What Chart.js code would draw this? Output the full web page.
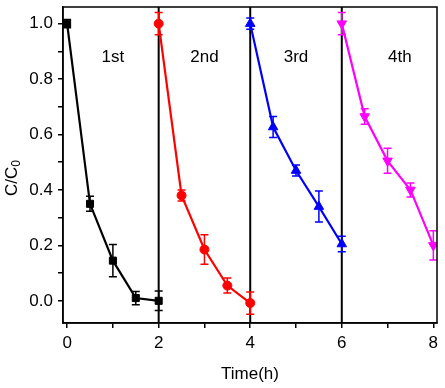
<!DOCTYPE html>
<html>
<head>
<meta charset="utf-8">
<script src="https://cdn.jsdelivr.net/npm/chart.js"></script>
<style>
  body { margin: 0; background: #fff; }
  #wrap { width: 445px; height: 388px; }
</style>
</head>
<body>
<div id="wrap"><canvas id="cycleChart" width="445" height="388"></canvas></div>
<script>
// cycle runs: time (h), C/C0 and error
const run1X = [0, 0.5, 1, 1.5, 2];
const run1Y = [1.0, 0.35, 0.145, 0.01, 0.0];
const run1Err = [0.015, 0.027, 0.058, 0.024, 0.035];

const run2X = [2, 2.5, 3, 3.5, 4];
const run2Y = [1.0, 0.38, 0.185, 0.055, -0.008];
const run2Err = [0.04, 0.02, 0.053, 0.027, 0.04];

const run3X = [4, 4.5, 5, 5.5, 6];
const run3Y = [1.0, 0.627, 0.47, 0.34, 0.205];
const run3Err = [0.02, 0.038, 0.02, 0.056, 0.028];

const run4X = [6, 6.5, 7, 7.5, 8];
const run4Y = [1.0, 0.665, 0.505, 0.40, 0.2];
const run4Err = [0.04, 0.028, 0.045, 0.025, 0.053];

const runLabels = ['1st', '2nd', '3rd', '4th'];
const runLabelX = [1.0, 3.0, 5.0, 7.27];
const runLabelY = 0.88;
const dividers = [2, 4, 6];

const FONT = '"Liberation Sans", Arial, sans-serif';

function pts(xs, ys) {
    return xs.map((x, i) => ({ x: x, y: ys[i] }));
}

function makeSet(xs, ys, errs, color, style, radius, rotation) {
    return {
        data: pts(xs, ys),
        errors: errs,
        borderColor: color,
        backgroundColor: color,
        borderWidth: 2.2,
        pointStyle: style,
        pointRadius: radius,
        pointRotation: rotation || 0,
        pointBorderWidth: 1,
        pointBackgroundColor: color,
        pointBorderColor: color,
        tension: 0
    };
}

// drop the extra label padding so the plot box sits where we want it
function noPad(s) {
    s.paddingTop = 0;
    s.paddingBottom = 0;
    s.paddingLeft = 0;
    s.paddingRight = 0;
}

const extrasPlugin = {
    id: 'extras',
    beforeDatasetsDraw(chart) {
        const ctx = chart.ctx;
        const xs = chart.scales.x;
        const area = chart.chartArea;
        ctx.save();
        ctx.strokeStyle = '#000';
        ctx.lineWidth = 2;
        dividers.forEach(d => {
            const px = xs.getPixelForValue(d);
            ctx.beginPath();
            ctx.moveTo(px, area.top);
            ctx.lineTo(px, area.bottom);
            ctx.stroke();
        });
        ctx.restore();
    },
    afterDatasetsDraw(chart) {
        const ctx = chart.ctx;
        const xs = chart.scales.x;
        const ys = chart.scales.y;
        ctx.save();
        chart.data.datasets.forEach(ds => {
            ctx.strokeStyle = ds.borderColor;
            ctx.lineWidth = 1.5;
            ds.data.forEach((p, i) => {
                const e = ds.errors[i];
                const px = xs.getPixelForValue(p.x);
                const top = ys.getPixelForValue(p.y + e);
                const bot = ys.getPixelForValue(p.y - e);
                ctx.beginPath();
                ctx.moveTo(px, top);
                ctx.lineTo(px, bot);
                ctx.moveTo(px - 4, top);
                ctx.lineTo(px + 4, top);
                ctx.moveTo(px - 4, bot);
                ctx.lineTo(px + 4, bot);
                ctx.stroke();
            });
        });
        ctx.restore();
    },
    afterDraw(chart) {
        const ctx = chart.ctx;
        const xs = chart.scales.x;
        const ys = chart.scales.y;
        const area = chart.chartArea;
        ctx.save();
        // frame
        ctx.strokeStyle = '#000';
        ctx.lineWidth = 1.5;
        ctx.strokeRect(area.left, area.top, area.right - area.left, area.bottom - area.top);

        // run labels
        ctx.fillStyle = '#000';
        ctx.font = '17px ' + FONT;
        ctx.textAlign = 'center';
        ctx.textBaseline = 'middle';
        runLabels.forEach((t, i) => {
            ctx.fillText(t, xs.getPixelForValue(runLabelX[i]), ys.getPixelForValue(runLabelY));
        });

        // x title
        ctx.fillText('Time(h)', 250, 374);

        // y title with subscript
        ctx.translate(12, 178);
        ctx.rotate(-Math.PI / 2);
        ctx.textAlign = 'left';
        ctx.font = '17px ' + FONT;
        const main = 'C/C';
        const w = ctx.measureText(main).width;
        ctx.font = '12px ' + FONT;
        const sw = ctx.measureText('0').width;
        const start = -(w + sw) / 2;
        ctx.font = '17px ' + FONT;
        ctx.fillText(main, start, 0);
        ctx.font = '12px ' + FONT;
        ctx.fillText('0', start + w, 5);
        ctx.restore();
    }
};

new Chart(document.getElementById('cycleChart'), {
    type: 'line',
    data: {
        datasets: [
            makeSet(run1X, run1Y, run1Err, '#000000', 'rect', 5),
            makeSet(run2X, run2Y, run2Err, '#ff0000', 'circle', 4.5),
            makeSet(run3X, run3Y, run3Err, '#0000ff', 'triangle', 5.5),
            makeSet(run4X, run4Y, run4Err, '#ff00ff', 'triangle', 5.5, 180)
        ]
    },
    options: {
        responsive: false,
        animation: false,
        layout: { padding: { top: 7, right: 8, left: 0, bottom: 0 } },
        plugins: {
            legend: { display: false },
            tooltip: { enabled: false }
        },
        scales: {
            x: {
                type: 'linear',
                min: -0.09,
                max: 8.08,
                afterFit: s => { s.height = 65; noPad(s); },
                grid: { drawOnChartArea: false, drawTicks: true, tickLength: 5, color: '#000', lineWidth: 1.5 },
                border: { display: true, color: '#000', width: 1.5 },
                ticks: {
                    stepSize: 1,
                    includeBounds: false,
                    maxRotation: 0,
                    autoSkip: false,
                    padding: 5,
                    color: '#000',
                    font: { family: FONT, size: 17 },
                    callback: v => (Math.round(v) % 2 === 0 ? String(Math.round(v)) : '')
                }
            },
            y: {
                min: -0.08,
                max: 1.06,
                afterFit: s => { s.width = 63; noPad(s); },
                grid: { drawOnChartArea: false, drawTicks: true, tickLength: 5, color: '#000', lineWidth: 1.5 },
                border: { display: true, color: '#000', width: 1.5 },
                ticks: {
                    stepSize: 0.1,
                    includeBounds: false,
                    autoSkip: false,
                    padding: 5,
                    color: '#000',
                    font: { family: FONT, size: 17 },
                    callback: v => {
                        const k = Math.round(v * 10);
                        return k % 2 === 0 ? (k / 10).toFixed(1) : '';
                    }
                }
            }
        }
    },
    plugins: [extrasPlugin]
});
</script>
</body>
</html>
